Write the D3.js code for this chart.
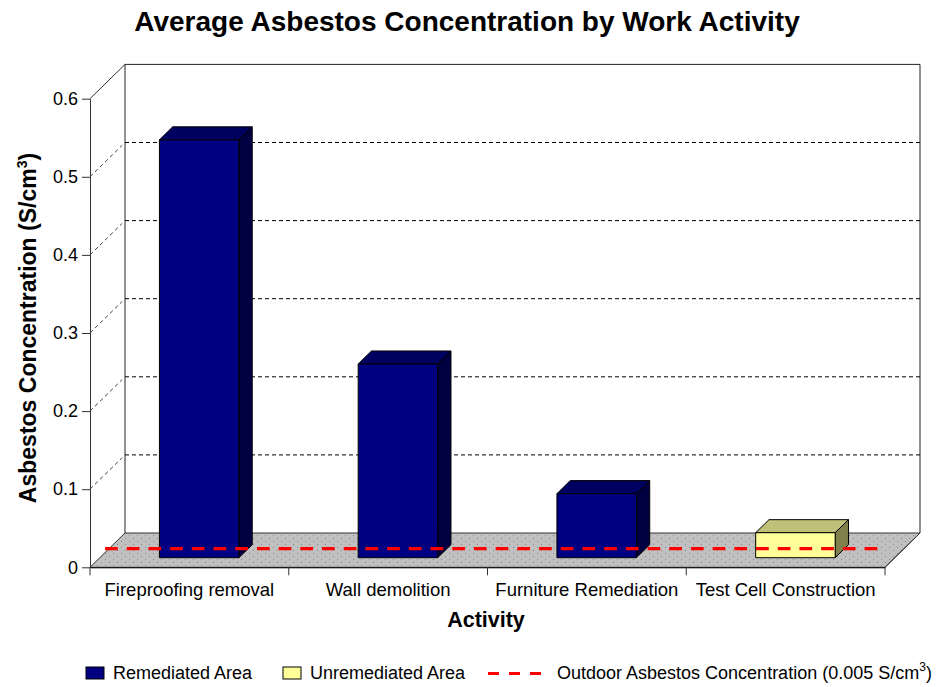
<!DOCTYPE html>
<html>
<head>
<meta charset="utf-8">
<script src="https://cdn.jsdelivr.net/npm/d3@7"></script>
<style>
  body { margin: 0; background: #fff; }
  text { font-family: "Liberation Sans", Arial, sans-serif; }
</style>
</head>
<body>
<div id="chart"></div>
<script>
// data
const categories = ["Fireproofing removal", "Wall demolition", "Furniture Remediation", "Test Cell Construction"];
const concentrations = [0.535, 0.248, 0.082, 0.032];
const areaTypes = ["Remediated Area", "Remediated Area", "Remediated Area", "Unremediated Area"];
const outdoorLevel = 0.005;
const yTicks = [0, 0.1, 0.2, 0.3, 0.4, 0.5, 0.6];
const legendItems = ["Remediated Area", "Unremediated Area"];

const width = 949;
const height = 687;

// 3d box geometry
const plotLeft = 90, plotRight = 885, plotBottom = 567.3, plotTop = 98.7;
const depthX = 35, depthY = 34.3;
const barFront = 0.28, barBack = 0.66;
const lineDepth = 0.43;

const svg = d3.select('#chart')
    .append('svg')
    .attr('width', width)
    .attr('height', height);

const x = d3.scaleBand().domain(categories).range([plotLeft, plotRight]);
const y = d3.scaleLinear().domain([0, 0.6]).range([plotBottom, plotTop]);

const faceColors = {
    "Remediated Area": { front: "#000080", top: "#000060", side: "#000040" },
    "Unremediated Area": { front: "#ffff99", top: "#c0c078", side: "#80804c" }
};

// project a point (screen x, value, depth 0..1) onto the page
function proj(px, v, z) {
    return [px + z * depthX, y(v) - z * depthY];
}
const line = d3.line();

// dotted floor pattern
const pat = svg.append('defs').append('pattern')
    .attr('id', 'dots')
    .attr('patternUnits', 'userSpaceOnUse')
    .attr('width', 8).attr('height', 6);
pat.append('rect').attr('width', 8).attr('height', 6).attr('fill', '#c0c0c0');
pat.append('rect').attr('x', 1).attr('y', 1).attr('width', 1).attr('height', 1).attr('fill', '#8a8a8a');
pat.append('rect').attr('x', 5).attr('y', 4).attr('width', 1).attr('height', 1).attr('fill', '#8a8a8a');

const maxV = y.domain()[1];

// back wall
svg.append('path')
    .attr('d', line([proj(plotLeft, 0, 1), proj(plotLeft, maxV, 1), proj(plotRight, maxV, 1), proj(plotRight, 0, 1)]))
    .attr('fill', '#fff')
    .attr('stroke', '#222')
    .attr('stroke-width', 1);

// left wall top edge
svg.append('path')
    .attr('d', line([proj(plotLeft, maxV, 0), proj(plotLeft, maxV, 1)]))
    .attr('fill', 'none')
    .attr('stroke', '#333');

// gridlines on the back and left walls
yTicks.filter(t => t > 0 && t < maxV).forEach(t => {
    svg.append('path')
        .attr('d', line([proj(plotLeft, t, 1), proj(plotRight, t, 1)]))
        .attr('stroke', '#000')
        .attr('stroke-dasharray', '4,3');
    svg.append('path')
        .attr('d', line([proj(plotLeft, t, 0), proj(plotLeft, t, 0.92)]))
        .attr('stroke', '#444')
        .attr('stroke-dasharray', '4,3');
});

// floor
svg.append('path')
    .attr('d', line([proj(plotLeft, 0, 0), proj(plotLeft, 0, 1), proj(plotRight, 0, 1), proj(plotRight, 0, 0)]) + 'Z')
    .attr('fill', 'url(#dots)')
    .attr('stroke', '#333')
    .attr('stroke-width', 1);

// bars
const bw = x.bandwidth() * 0.4;
categories.forEach((c, i) => {
    const v = concentrations[i];
    const col = faceColors[areaTypes[i]];
    const x0 = x(c) + (x.bandwidth() - bw) / 2;
    const x1 = x0 + bw;
    const g = svg.append('g').attr('stroke', '#000').attr('stroke-width', 1).attr('stroke-linejoin', 'round');
    g.append('path')
        .attr('d', line([proj(x0, v, barFront), proj(x1, v, barFront), proj(x1, v, barBack), proj(x0, v, barBack)]) + 'Z')
        .attr('fill', col.top);
    g.append('path')
        .attr('d', line([proj(x1, 0, barFront), proj(x1, v, barFront), proj(x1, v, barBack), proj(x1, 0, barBack)]) + 'Z')
        .attr('fill', col.side);
    g.append('path')
        .attr('d', line([proj(x0, 0, barFront), proj(x0, v, barFront), proj(x1, v, barFront), proj(x1, 0, barFront)]) + 'Z')
        .attr('fill', col.front);
});

// y axis
const yAxis = svg.append('g')
    .attr('transform', `translate(${plotLeft},0)`)
    .call(d3.axisLeft(y).tickValues(yTicks).tickFormat(d3.format('~g')).tickSize(8).tickSizeOuter(0));
yAxis.select('.domain').attr('stroke', '#333');
yAxis.selectAll('line').attr('stroke', '#333');
yAxis.selectAll('text').attr('font-size', 18).attr('fill', '#000').attr('x', -12);

// x axis
const xAxis = svg.append('g')
    .attr('transform', `translate(0,${plotBottom})`)
    .call(d3.axisBottom(x).tickSize(0).tickSizeOuter(0));
xAxis.select('.domain').attr('stroke', '#000');
xAxis.selectAll('text').attr('font-size', 18.5).attr('fill', '#000').attr('y', 16).attr('dy', '0.71em');
const bounds = categories.map(c => x(c)).concat([plotRight]);
xAxis.selectAll('.bound')
    .data(bounds)
    .join('line')
    .attr('class', 'bound')
    .attr('x1', d => d).attr('x2', d => d)
    .attr('y1', 0).attr('y2', 8)
    .attr('stroke', '#333');

// right edge of the floor
svg.append('path')
    .attr('d', line([proj(plotRight, 0, 0), proj(plotRight, 0, 1)]))
    .attr('stroke', '#333');

// outdoor level line
svg.append('path')
    .attr('d', line([proj(plotLeft, outdoorLevel, lineDepth), proj(plotRight - 18, outdoorLevel, lineDepth)]))
    .attr('stroke', '#ff0000')
    .attr('stroke-width', 3.2)
    .attr('stroke-dasharray', '12.7,9');

// titles
svg.append('text')
    .attr('x', 467).attr('y', 31)
    .attr('text-anchor', 'middle')
    .attr('font-size', 28).attr('font-weight', 'bold')
    .text('Average Asbestos Concentration by Work Activity');

svg.append('text')
    .attr('x', 486).attr('y', 627)
    .attr('text-anchor', 'middle')
    .attr('font-size', 21.5).attr('font-weight', 'bold')
    .text('Activity');

const yTitle = svg.append('text')
    .attr('transform', 'translate(36,328) rotate(-90)')
    .attr('text-anchor', 'middle')
    .attr('font-size', 23).attr('font-weight', 'bold');
yTitle.append('tspan').text('Asbestos Concentration (S/cm');
yTitle.append('tspan').attr('dy', -9).attr('font-size', 14).text('3');
yTitle.append('tspan').attr('dy', 9).text(')');

// legend
const legend = svg.append('g').attr('font-size', 18);
const legendX = [86, 283];
legendItems.forEach((name, i) => {
    legend.append('rect')
        .attr('x', legendX[i]).attr('y', 667)
        .attr('width', 18).attr('height', 12)
        .attr('fill', faceColors[name].front)
        .attr('stroke', '#000');
    legend.append('text')
        .attr('x', legendX[i] + 27).attr('y', 679)
        .text(name);
});
legend.append('line')
    .attr('x1', 488).attr('x2', 541)
    .attr('y1', 673.5).attr('y2', 673.5)
    .attr('stroke', '#ff0000')
    .attr('stroke-width', 3.2)
    .attr('stroke-dasharray', '11,10');
const outText = legend.append('text').attr('x', 557).attr('y', 679);
outText.append('tspan').text(`Outdoor Asbestos Concentration (${outdoorLevel} S/cm`);
outText.append('tspan').attr('dy', -8).attr('font-size', 12).text('3');
outText.append('tspan').attr('dy', 8).text(')');
</script>
</body>
</html>
